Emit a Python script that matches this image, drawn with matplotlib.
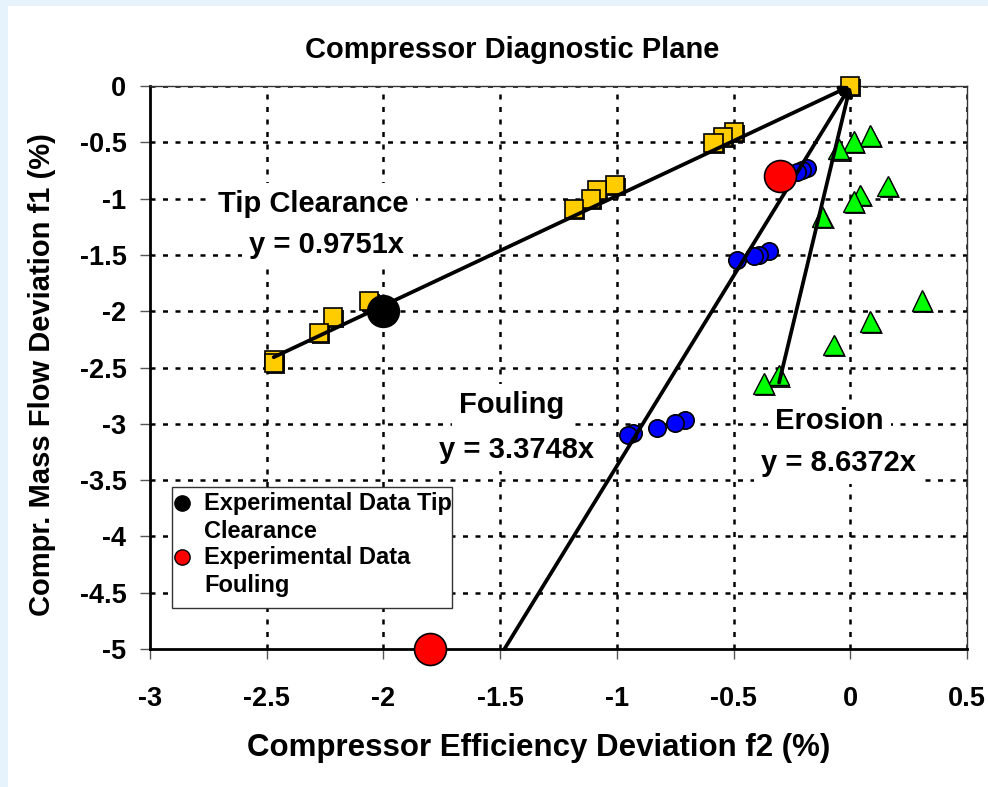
import matplotlib
matplotlib.use("Agg")
import matplotlib.pyplot as plt
import matplotlib.patheffects as pe
from matplotlib.patches import Rectangle
from matplotlib.lines import Line2D

plt.rcParams['font.family'] = ['Liberation Sans', 'DejaVu Sans']
plt.rcParams['font.weight'] = 'bold'

# Simulated fault signatures (f2 = efficiency deviation, f1 = mass flow deviation)
tip_f2 = [0.0, -0.50, -0.545, -0.586, -1.007, -1.085, -1.111, -1.185,
          -2.063, -2.216, -2.278, -2.468, -2.468]
tip_f1 = [0.0, -0.405, -0.45, -0.503, -0.879, -0.924, -1.006, -1.095,
          -1.907, -2.049, -2.191, -2.433, -2.46]

foul_f2 = [-0.186, -0.207, -0.228, -0.35, -0.393, -0.414, -0.486,
           -0.707, -0.75, -0.827, -0.93, -0.951]
foul_f1 = [-0.731, -0.746, -0.761, -1.463, -1.50, -1.51, -1.545,
           -2.966, -2.993, -3.037, -3.08, -3.10]

eros_f2 = [0.086, 0.014, -0.05, 0.161, 0.043, 0.014, -0.121,
           0.307, 0.086, -0.071, -0.307, -0.371]
eros_f1 = [-0.44, -0.49, -0.56, -0.888, -0.968, -1.027, -1.16,
           -1.907, -2.093, -2.30, -2.567, -2.64]

# Experimental points
exp_tip_f2 = [-2.0]
exp_tip_f1 = [-2.0]
exp_foul_f2 = [-0.3, -1.8]
exp_foul_f1 = [-0.8, -5.0]

# Fitted trend lines through the origin: f1 = slope * f2
slopes = {"Tip Clearance": 0.9751, "Fouling": 3.3748, "Erosion": 8.6372}
line_start_f2 = {"Tip Clearance": -2.47, "Fouling": -5.0 / 3.3748, "Erosion": -0.305}

legend_labels = ['Experimental Data Tip\nClearance', 'Experimental Data\nFouling']

W, H = 988, 787


def fx(px):
    return px / W


def fy(py):
    return 1 - py / H


fig = plt.figure(figsize=(W / 100, H / 100), dpi=100)
fig.patch.set_facecolor('#E6F2FC')
fig.patches.append(Rectangle((fx(8), 0), 1, fy(6), transform=fig.transFigure,
                             facecolor='white', edgecolor='none', zorder=-10))

ax = fig.add_axes([fx(150), fy(649), 817 / W, 563 / H])
ax.set_zorder(2)
ax.set_facecolor('white')
ax.set_xlim(-3, 0.5)
ax.set_ylim(-5, 0)

# dotted grid
xticks = [-3, -2.5, -2, -1.5, -1, -0.5, 0, 0.5]
yticks = [0, -0.5, -1, -1.5, -2, -2.5, -3, -3.5, -4, -4.5, -5]
for xv in xticks[1:]:
    ax.axvline(xv, color='black', lw=1.8, ls=(0, (2, 3)), zorder=1)
for yv in yticks[:-1]:
    ax.axhline(yv, color='black', lw=1.8, ls=(0, (2, 3)), zorder=1)

shadow = [pe.SimplePatchShadow(offset=(1.5, -1.5), shadow_rgbFace='black', alpha=0.9), pe.Normal()]

ax.plot(tip_f2, tip_f1, ls='none', marker='s', ms=13, mfc='#FFCC00', mec='black',
        mew=1.2, zorder=3, path_effects=shadow, clip_on=False)
ax.plot(foul_f2, foul_f1, ls='none', marker='o', ms=12.5, mfc='#0000FF', mec='black',
        mew=1.2, zorder=3)
ax.plot(eros_f2, eros_f1, ls='none', marker='^', ms=15, mfc='#00FF00', mec='black',
        mew=1.0, zorder=3, path_effects=shadow)

# trend lines drawn as arrows pointing to the origin
for name, k in slopes.items():
    x0 = line_start_f2[name]
    ax.annotate('', xy=(0, 0), xytext=(x0, k * x0),
                arrowprops=dict(arrowstyle='-|>', lw=2.7, color='black',
                                mutation_scale=13, shrinkA=0, shrinkB=0),
                zorder=4, annotation_clip=False)

ax.plot(exp_tip_f2, exp_tip_f1, ls='none', marker='o', ms=23, mfc='black',
        mec='black', zorder=5)
ax.plot(exp_foul_f2, exp_foul_f1, ls='none', marker='o', ms=23, mfc='#FF0000',
        mec='black', mew=1.2, zorder=5, clip_on=False)

# trend labels
lab_kw = dict(ha='center', va='center', fontsize=21, fontweight='bold', zorder=6,
              bbox=dict(facecolor='white', edgecolor='none', pad=5))
ax.text(-2.300, -1.048, 'Tip Clearance', **lab_kw)
ax.text(-2.245, -1.412, 'y = 0.9751x', **lab_kw)
ax.text(-1.449, -2.833, 'Fouling', **lab_kw)
ax.text(-1.431, -3.233, 'y = 3.3748x', **lab_kw)
ax.text(-0.090, -2.975, 'Erosion', **lab_kw)
ax.text(-0.051, -3.348, 'y = 8.6372x', **lab_kw)

# axes frame
for side in ['left', 'bottom']:
    ax.spines[side].set_linewidth(2)
    ax.spines[side].set_color('black')
for side in ['top', 'right']:
    ax.spines[side].set_linewidth(1)
    ax.spines[side].set_color('#333333')

ax.set_xticks(xticks)
ax.set_xticklabels(['-3', '-2.5', '-2', '-1.5', '-1', '-0.5', '0', '0.5'])
ax.set_yticks(yticks)
ax.set_yticklabels(['0', '-0.5', '-1', '-1.5', '-2', '-2.5', '-3', '-3.5', '-4', '-4.5', '-5'])
ax.tick_params(axis='x', direction='out', length=7, width=1, color='#555555',
               pad=20, labelsize=19.5)
ax.tick_params(axis='y', direction='out', length=7, width=1, color='#555555',
               pad=10, labelsize=19.5)
for lab in ax.get_xticklabels() + ax.get_yticklabels():
    lab.set_fontweight('bold')

fig.text(fx(512), fy(50), 'Compressor Diagnostic Plane', ha='center', va='center',
         fontsize=21, fontweight='bold')
fig.text(fx(539), fy(748), 'Compressor Efficiency Deviation f2 (%)', ha='center',
         va='center', fontsize=22.5, fontweight='bold')
fig.text(fx(42), fy(375), 'Compr. Mass Flow Deviation f1 (%)', ha='center',
         va='center', rotation=90, fontsize=21, fontweight='bold')

# legend box with two wrapped entries
fig.add_artist(Rectangle((fx(172), fy(608)), 280 / W, 121 / H, transform=fig.transFigure,
                         facecolor='white', edgecolor='#333333', lw=1, zorder=10))
legend_colors = ['black', '#FF0000']
legend_rows = [503, 557]
for lab, col, row in zip(legend_labels, legend_colors, legend_rows):
    fig.add_artist(Line2D([fx(182)], [fy(row)], transform=fig.transFigure, ls='none',
                          marker='o', ms=11, mfc=col, mec='black', mew=1, zorder=11))
    fig.text(fx(204), fy(row - 11), lab, ha='left', va='top', fontsize=17,
             fontweight='bold', linespacing=1.3, zorder=11)

fig.savefig('out.png', dpi=100, facecolor=fig.get_facecolor())
